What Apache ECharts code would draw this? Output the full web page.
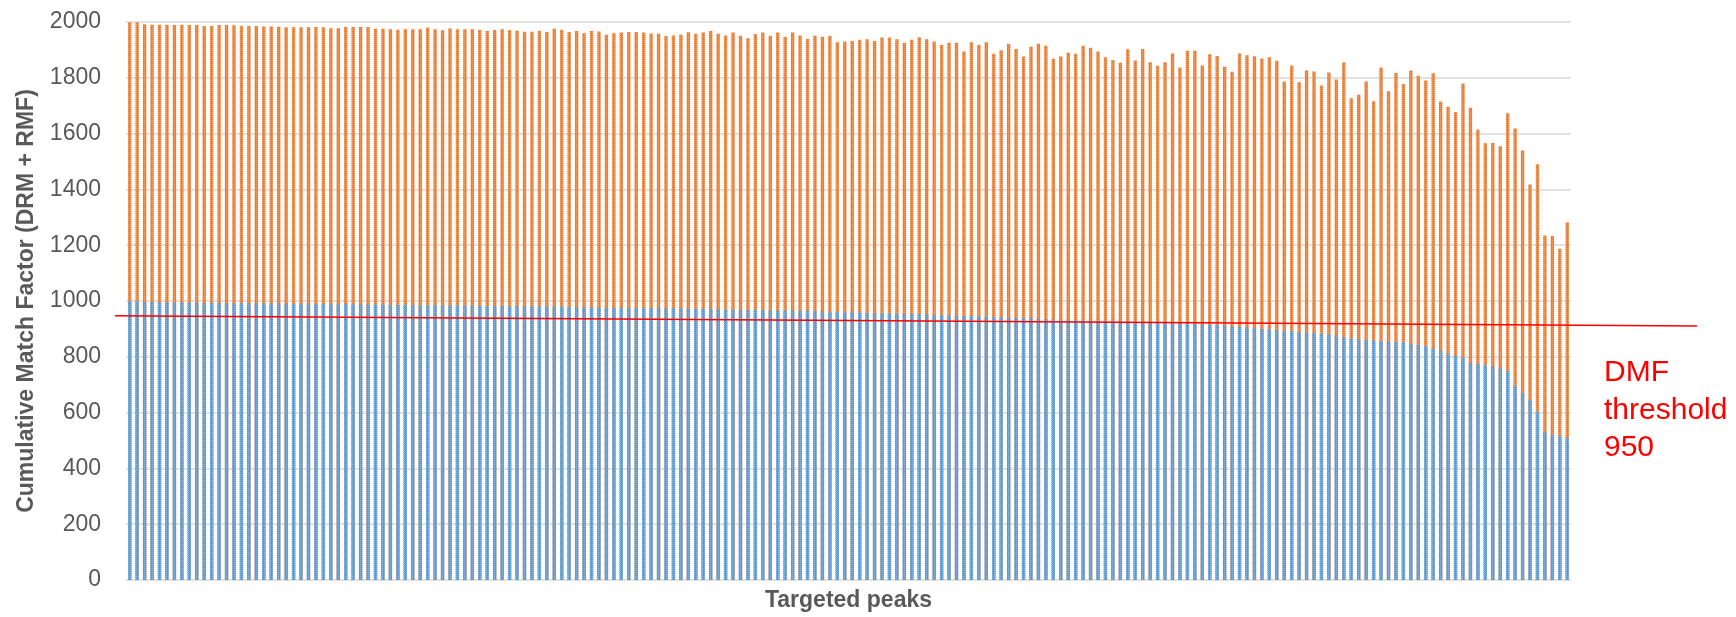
<!DOCTYPE html>
<html>
<head>
<meta charset="utf-8">
<script src="https://cdn.jsdelivr.net/npm/echarts@6/dist/echarts.min.js"></script>
<style>
    html, body { margin: 0; padding: 0; background: #fff; }
    #chart { width: 1736px; height: 617px; }
</style>
</head>
<body>
<div id="chart"></div>
<script>
// cumulative factor (DRM + RMF) per targeted peak
var totalFactor = [
    1999, 1999, 1992, 1990, 1990, 1990, 1989, 1990, 1989, 1989,
    1986, 1986, 1989, 1989, 1988, 1987, 1986, 1986, 1984, 1984,
    1983, 1981, 1981, 1981, 1981, 1982, 1981, 1978, 1978, 1982,
    1982, 1982, 1982, 1976, 1976, 1974, 1972, 1974, 1974, 1974,
    1980, 1974, 1970, 1977, 1974, 1974, 1974, 1972, 1968, 1971,
    1974, 1971, 1969, 1965, 1965, 1968, 1964, 1976, 1972, 1964,
    1968, 1960, 1968, 1966, 1954, 1960, 1962, 1964, 1964, 1962,
    1959, 1958, 1950, 1952, 1954, 1963, 1958, 1962, 1968, 1958,
    1952, 1962, 1951, 1942, 1957, 1962, 1951, 1962, 1946, 1962,
    1952, 1939, 1951, 1947, 1951, 1927, 1930, 1932, 1936, 1938,
    1932, 1944, 1944, 1938, 1926, 1936, 1945, 1938, 1930, 1918,
    1926, 1926, 1894, 1927, 1918, 1927, 1886, 1899, 1922, 1903,
    1876, 1911, 1922, 1915, 1868, 1876, 1890, 1886, 1915, 1908,
    1894, 1874, 1864, 1854, 1902, 1862, 1903, 1856, 1843, 1856,
    1887, 1837, 1897, 1897, 1844, 1884, 1878, 1840, 1822, 1887,
    1881, 1877, 1869, 1874, 1861, 1787, 1844, 1784, 1826, 1823,
    1772, 1819, 1794, 1855, 1727, 1739, 1787, 1716, 1837, 1752,
    1817, 1778, 1826, 1807, 1790, 1816, 1715, 1696, 1677, 1780,
    1693, 1615, 1565, 1566, 1555, 1673, 1618, 1539, 1418, 1490,
    1235, 1233, 1187, 1281
];

// DRM part (lower, blue)
var drmFactor = [
    998, 998, 996, 996, 995, 995, 995, 994, 994, 994,
    993, 993, 993, 992, 992, 992, 992, 991, 991, 991,
    991, 990, 990, 990, 990, 989, 989, 989, 989, 989,
    988, 988, 988, 987, 987, 987, 986, 986, 986, 985,
    985, 985, 984, 984, 984, 983, 983, 983, 982, 982,
    982, 981, 981, 981, 980, 980, 980, 979, 979, 978,
    978, 977, 977, 977, 976, 976, 976, 975, 975, 974,
    974, 974, 973, 973, 972, 972, 971, 971, 970, 970,
    969, 969, 968, 968, 967, 967, 966, 966, 965, 965,
    964, 964, 963, 962, 961, 961, 960, 959, 958, 957,
    957, 956, 955, 954, 954, 953, 952, 951, 950, 949,
    948, 947, 946, 945, 944, 943, 942, 941, 940, 939,
    938, 937, 936, 935, 934, 933, 932, 931, 930, 929,
    928, 927, 927, 926, 925, 925, 924, 923, 923, 922,
    921, 920, 919, 918, 916, 915, 914, 911, 909, 907,
    905, 903, 900, 898, 896, 893, 891, 889, 887, 885,
    882, 880, 876, 870, 865, 862, 860, 858, 856, 854,
    853, 851, 846, 842, 836, 829, 822, 812, 805, 798,
    777, 774, 770, 765, 759, 750, 695, 669, 645, 603,
    532, 520, 516, 508
];

// hand drawn threshold line: [position across, value] at both ends
var thresholdLine = [[0, 947], [1, 910]];
var thresholdText = 'DMF\nthreshold\n950';

var peaks = drmFactor.map(function (v, i) { return 'P' + (i + 1); });

var chartDom = document.getElementById('chart');
var myChart = echarts.init(chartDom, null, { renderer: 'canvas' });

// light dotted texture like the excel pattern fill
var dotted = function (c) {
    return {
        symbol: 'rect',
        symbolSize: 1,
        dashArrayX: [1, 1],
        dashArrayY: [1, 1],
        color: c
    };
};

var option = {
    animation: false,
    backgroundColor: '#ffffff',
    textStyle: { fontFamily: 'Liberation Sans' },
    grid: [
        { left: 126, right: 165, top: 22, bottom: 37, outerBoundsMode: 'none' },
        { left: 115, right: 39, top: 22, bottom: 37, outerBoundsMode: 'none' }
    ],
    xAxis: [
        {
            type: 'category',
            gridIndex: 0,
            data: peaks,
            boundaryGap: true,
            axisLine: { show: false },
            axisTick: { show: false },
            axisLabel: { show: false },
            name: 'Targeted peaks',
            nameLocation: 'middle',
            nameGap: 9,
            nameTextStyle: { fontSize: 23, fontWeight: 'bold', color: '#595959' }
        },
        {
            type: 'value',
            gridIndex: 1,
            min: 0,
            max: 1,
            show: false
        }
    ],
    yAxis: [
        {
            type: 'value',
            gridIndex: 0,
            min: 0,
            max: 2000,
            interval: 200,
            axisLine: { show: false },
            axisTick: { show: false },
            axisLabel: {
                fontSize: 23,
                color: '#595959',
                margin: 25,
                formatter: function (v) { return String(v); }
            },
            splitLine: { lineStyle: { color: '#d9d9d9', width: 1.5 } },
            name: 'Cumulative Match Factor (DRM + RMF)',
            nameLocation: 'middle',
            nameGap: 88,
            nameTextStyle: { fontSize: 23, fontWeight: 'bold', color: '#595959' }
        },
        {
            type: 'value',
            gridIndex: 1,
            min: 0,
            max: 2000,
            show: false
        }
    ],
    series: [
        {
            name: 'DRM + RMF',
            type: 'bar',
            xAxisIndex: 0,
            yAxisIndex: 0,
            data: totalFactor,
            barWidth: '45%',
            barGap: '-100%',
            itemStyle: { color: '#ED7D31', decal: dotted('rgba(255,255,255,0.3)') }
        },
        {
            name: 'DRM',
            type: 'bar',
            xAxisIndex: 0,
            yAxisIndex: 0,
            data: drmFactor,
            barWidth: '45%',
            barGap: '-100%',
            itemStyle: { color: '#5B9BD5', decal: dotted('rgba(255,255,255,0.3)') }
        },
        {
            name: 'threshold',
            type: 'line',
            xAxisIndex: 1,
            yAxisIndex: 1,
            data: thresholdLine,
            symbol: 'none',
            lineStyle: { color: '#ff0000', width: 1.5 },
            z: 5
        }
    ],
    graphic: [
        {
            type: 'text',
            left: 1604,
            top: 354,
            style: {
                text: thresholdText,
                fill: '#ff0000',
                font: '30px "Liberation Sans"',
                lineHeight: 37.5
            }
        }
    ]
};

option && myChart.setOption(option);
</script>
</body>
</html>
